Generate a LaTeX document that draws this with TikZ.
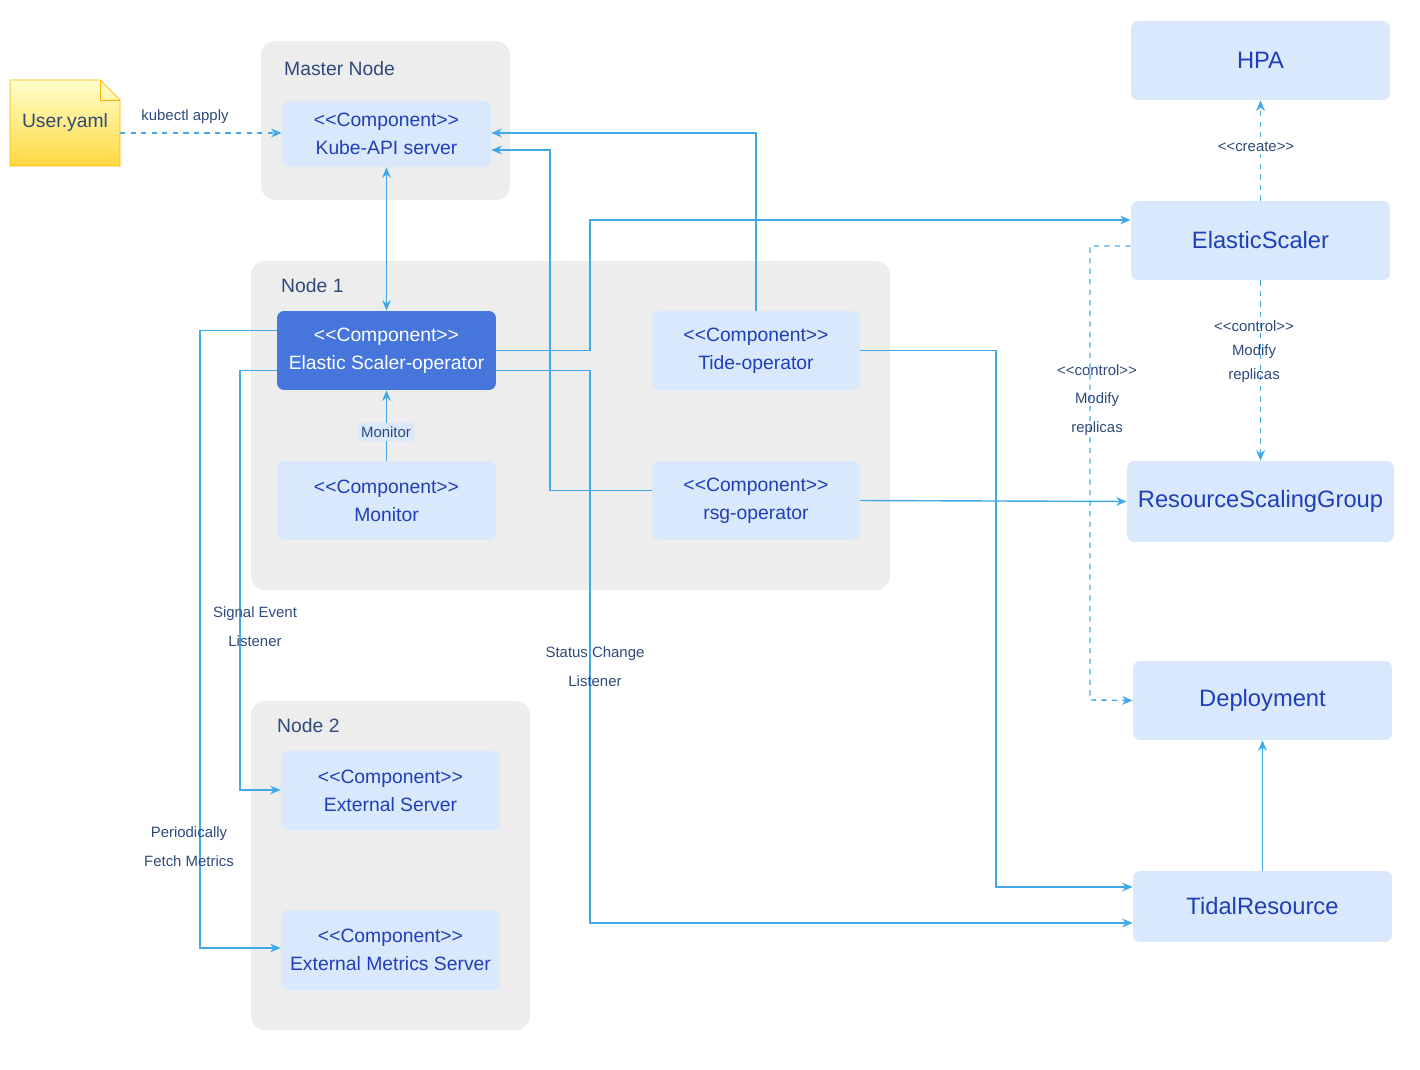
\documentclass[tikz,border=0pt]{standalone}
\usepackage{fontspec}
\setmainfont{Liberation Sans}
\usetikzlibrary{arrows.meta, positioning, calc}
\definecolor{linec}{HTML}{42A9E8}
\definecolor{boxc}{HTML}{DAE8FC}
\definecolor{grpc}{HTML}{EDEDED}
\definecolor{txtc}{HTML}{1F3FB8}
\definecolor{grptxt}{HTML}{2E4A7A}
\definecolor{opc}{HTML}{4676DC}
\newcommand{\stL}{\textless\kern0pt\textless}
\newcommand{\stR}{\textgreater\kern0pt\textgreater}
\tikzset{
  grp/.style={fill=grpc, rounded corners=8pt, draw=none},
  comp/.style={fill=boxc, rounded corners=4pt, text=txtc, align=center,
    font=\fontsize{11}{16}\selectfont, inner sep=0pt},
  res/.style={comp, font=\fontsize{13.5}{16}\selectfont},
  conn/.style={draw=linec, line width=0.8pt, -{Stealth[length=6pt,width=5pt]}},
  lbl/.style={text=grptxt, font=\fontsize{8.5}{16.4}\selectfont, align=center},
  glbl/.style={text=grptxt, font=\fontsize{11}{13}\selectfont, anchor=west}
}
\begin{document}
\begin{tikzpicture}[x=0.02cm, y=-0.02cm]
    \useasboundingbox (0,0) rectangle (1420,1070);

    % Groups
    \fill[grp] (261,41) rectangle (510,200);
    \node[glbl] (mastertxt) at (278,69) {Master Node};
    \fill[grp] (251,261) rectangle (890,590);
    \node[glbl] (node1txt) at (275,286) {Node 1};
    \fill[grp] (251,701) rectangle (530,1030);
    \node[glbl] (node2txt) at (271,726) {Node 2};

    % User file
    \shade[top color=yellow!20, bottom color=yellow!60!orange!75, draw=orange!60!yellow]
      (10,80) -- (100,80) -- (120,100) -- (120,166) -- (10,166) -- cycle;
    \draw[draw=orange!60!yellow] (100,80) -- (100,100) -- (120,100);
    \node[text=grptxt, font=\fontsize{11}{13}\selectfont] (user) at (65,123) {User.yaml};

    % Components
    \node[comp, minimum width=4.18cm, minimum height=1.32cm] (kube) at (386.5,134) {\stL Component\stR\\Kube-API server};
    \node[comp, fill=opc, text=white, minimum width=4.38cm, minimum height=1.58cm] (esop) at (386.5,350.5) {\stL Component\stR\\Elastic Scaler-operator};
    \node[comp, minimum width=4.16cm, minimum height=1.58cm] (tide) at (756,350.5) {\stL Component\stR\\Tide-operator};
    \node[comp, minimum width=4.38cm, minimum height=1.58cm] (mon) at (386.5,500.5) {\stL Component\stR\\Monitor};
    \node[comp, minimum width=4.16cm, minimum height=1.58cm] (rsgop) at (756,500.5) {\stL Component\stR\\rsg-operator};
    \node[comp, minimum width=4.38cm, minimum height=1.58cm] (ext) at (390.5,790.5) {\stL Component\stR\\External Server};
    \node[comp, minimum width=4.38cm, minimum height=1.6cm] (extm) at (390.5,950) {\stL Component\stR\\External Metrics Server};

    % Resources
    \node[res, minimum width=5.18cm, minimum height=1.58cm] (hpa) at (1260.5,60.5) {HPA};
    \node[res, minimum width=5.18cm, minimum height=1.58cm] (es) at (1260.5,240.5) {ElasticScaler};
    \node[res, minimum width=5.34cm, minimum height=1.62cm] (rsg) at (1260.5,501.5) {ResourceScalingGroup};
    \node[res, minimum width=5.18cm, minimum height=1.58cm] (dep) at (1262.5,700.5) {Deployment};
    \node[res, minimum width=5.18cm, minimum height=1.42cm] (tidal) at (1262.5,906.5) {TidalResource};

    % Connectors
    \draw[conn, dashed] (120,133) -- (kube.west |- 0,133);
    \node[lbl] (kubectl) at (185,117) {kubectl apply};
    \draw[conn, {Stealth[length=6pt,width=5pt]}-{Stealth[length=6pt,width=5pt]}] (kube) -- (esop);
    \draw[conn] (tide.north) |- (kube.east |- 0,133);
    \draw[conn] ([yshift=0.2cm]rsgop.west) -| (550,150) -- (kube.east |- 0,150);
    \draw[conn] (esop.east) -| (590,220) -- (es.west |- 0,220);
    \draw[conn] ([yshift=-0.4cm]esop.east) -| (590,923) -- (tidal.west |- 0,923);
    \node[lbl] (statl) at (595,667) {Status Change\\Listener};
    \draw[conn] ([yshift=0.4cm]esop.west) -| (200,948) -- (extm.west |- 0,948);
    \node[lbl] (fetchl) at (189,847) {Periodically\\Fetch Metrics};
    \draw[conn] ([yshift=-0.4cm]esop.west) -| (240,790) -- (ext.west |- 0,790);
    \node[lbl] (sigl) at (255,627) {Signal Event\\Listener};
    \draw[conn] (mon) -- (esop);
    \node[lbl, fill=boxc, inner sep=2pt] (monl) at (386,432) {Monitor};
    \draw[conn] (tide.east) -| (996,887) -- (tidal.west |- 0,887);
    \draw[conn] (rsgop.east) -- (rsg.west);
    \draw[conn, dashed] (es) -- (hpa);
    \node[lbl, fill=white, inner sep=1pt] (createl) at (1256,147) {\stL create\stR};
    \draw[conn, dashed] (es) -- (rsg);
    \node[lbl, font=\fontsize{8.5}{13.6}\selectfont] (ctrl1) at (1254,352) {\stL control\stR\\Modify\\replicas};
    \draw[conn, dashed] (es.west |- 0,246) -| (1090,700) -- (dep.west);
    \node[lbl] (ctrl2) at (1097,400) {\stL control\stR\\Modify\\replicas};
    \draw[conn] (tidal) -- (dep);
\end{tikzpicture}
\end{document}
